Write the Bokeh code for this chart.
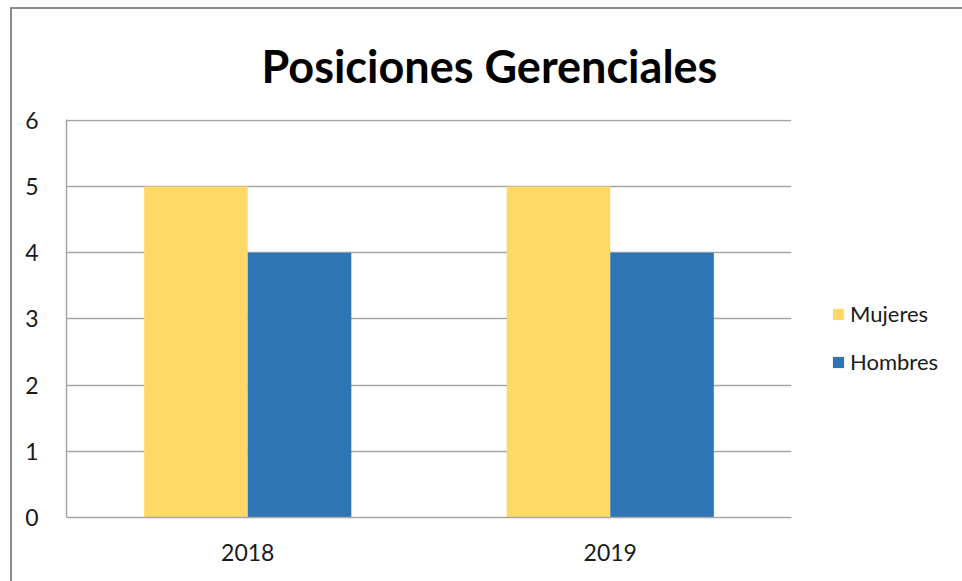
from bokeh.plotting import figure
from bokeh.models import ColumnDataSource, FactorRange, Range1d, Legend, LegendItem, FixedTicker
from bokeh.transform import dodge
from bokeh.embed import file_html
from bokeh.resources import INLINE

years = ["2018", "2019"]
mujeres = [5, 5]
hombres = [4, 4]
series = ["Mujeres", "Hombres"]
colors = ["#FFD966", "#2E75B6"]
y_ticks = [0, 1, 2, 3, 4, 5, 6]

src = ColumnDataSource(dict(years=years, Mujeres=mujeres, Hombres=hombres))

FONT = "Lato"
GRID = "#A6A6A6"

p = figure(frame_width=725, frame_height=398, x_range=FactorRange(*years, range_padding=0),
           y_range=Range1d(0, 6.012), output_backend="svg", toolbar_location=None,
           min_border_left=54, min_border_right=160, min_border_top=109, min_border_bottom=70,
           title="Posiciones Gerenciales")
p.margin = (7, 0, 0, 10)
p.styles = {"border-left": "2px solid #8C8C8C", "border-top": "2px solid #8C8C8C"}

bw = 1 / 3.5
r1 = p.vbar(x=dodge("years", -bw / 2, range=p.x_range), top="Mujeres", width=bw,
            source=src, color=colors[0], line_color=None)
r2 = p.vbar(x=dodge("years", bw / 2, range=p.x_range), top="Hombres", width=bw,
            source=src, color=colors[1], line_color=None)

p.title.text_font = FONT
p.title.text_font_size = "45px"
p.title.text_font_style = "bold"
p.title.text_color = "#000000"
p.title.align = "left"
p.title.offset = 195
p.title.standoff = 54

p.outline_line_color = None
p.background_fill_color = "white"
p.border_fill_color = "white"

p.xgrid.grid_line_color = None
p.ygrid.grid_line_color = GRID
p.ygrid.grid_line_width = 1.5
p.yaxis.ticker = FixedTicker(ticks=y_ticks)

for ax in (p.xaxis[0], p.yaxis[0]):
    ax.axis_line_color = GRID
    ax.axis_line_width = 1.5
    ax.major_tick_line_color = None
    ax.minor_tick_line_color = None
    ax.major_label_text_font = FONT
    ax.major_label_text_font_size = "23px"
    ax.major_label_text_color = "#1a1a1a"
p.yaxis.major_label_standoff = 22
p.xaxis.major_label_standoff = 20

legend = Legend(items=[LegendItem(label=series[0], renderers=[r1]),
                       LegendItem(label=series[1], renderers=[r2])],
                location=(40, 142), orientation="vertical",
                label_text_font=FONT, label_text_font_size="22px", label_text_color="#1a1a1a",
                glyph_width=14, glyph_height=14, label_standoff=5, spacing=21,
                border_line_color=None, background_fill_alpha=0, padding=2, margin=0)
p.add_layout(legend, "right")

open("out.html", "w").write(file_html(p, INLINE))
